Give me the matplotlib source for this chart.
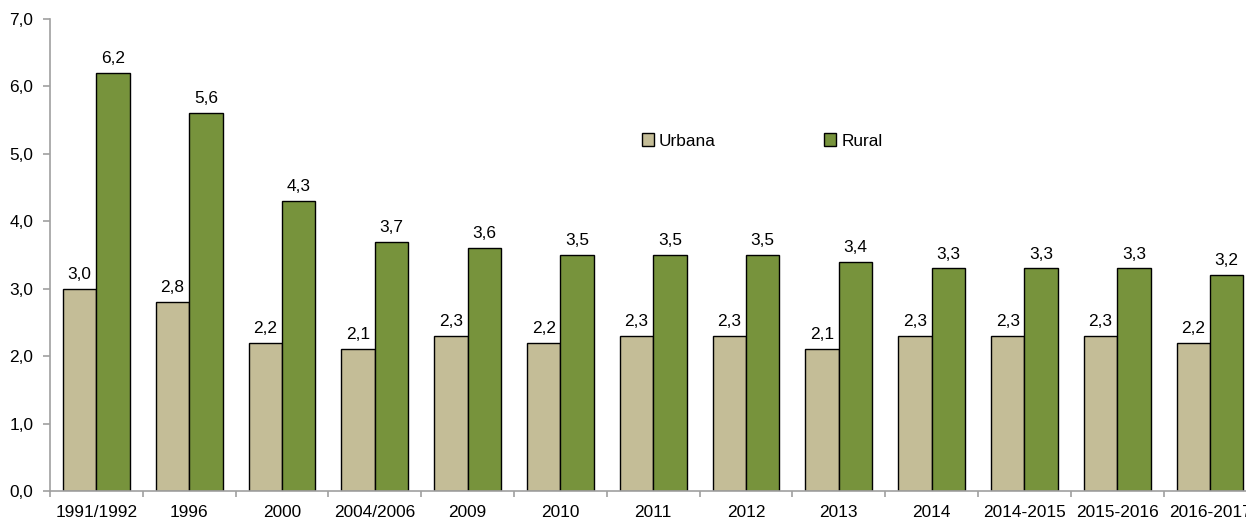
import matplotlib.pyplot as plt
import numpy as np

plt.rcParams['font.family'] = ['Liberation Sans', 'DejaVu Sans']

anos = ["1991/1992", "1996", "2000", "2004/2006", "2009", "2010", "2011",
        "2012", "2013", "2014", "2014-2015", "2015-2016", "2016-2017"]
urbana = [3.0, 2.8, 2.2, 2.1, 2.3, 2.2, 2.3, 2.3, 2.1, 2.3, 2.3, 2.3, 2.2]
rural = [6.2, 5.6, 4.3, 3.7, 3.6, 3.5, 3.5, 3.5, 3.4, 3.3, 3.3, 3.3, 3.2]

fs = 12.4

fig = plt.figure(figsize=(12.46, 5.21), dpi=100)
ax = fig.add_axes([50 / 1246, 1 - 491 / 521, 1206.4 / 1246, (491 - 19) / 521])

x = np.arange(len(anos))
w = 0.36
b1 = ax.bar(x - w / 2, urbana, w, color="#C4BD97", edgecolor="black", linewidth=1, label="Urbana")
b2 = ax.bar(x + w / 2, rural, w, color="#77933C", edgecolor="black", linewidth=1, label="Rural")

# rotulos de valor acima das barras
for bars, vals in [(b1, urbana), (b2, rural)]:
    for r, v in zip(bars, vals):
        ax.annotate(f"{v:.1f}".replace(".", ","), (r.get_x() + r.get_width() / 2, v),
                    xytext=(0, 5), textcoords="offset points", ha="center", va="bottom",
                    fontsize=fs)

ax.set_xlim(-0.5, len(anos) - 0.5)
ax.set_ylim(0, 7)
ax.set_yticks(np.arange(0, 7.1, 1))
ax.set_yticklabels([f"{t:.1f}".replace(".", ",") for t in np.arange(0, 7.1, 1)], fontsize=fs)
ax.set_xticks(x)
ax.set_xticklabels(anos, fontsize=fs)
ax.set_xticks(np.arange(-0.5, len(anos), 1), minor=True)
ax.tick_params(axis="x", which="major", length=0, pad=10)
ax.tick_params(axis="x", which="minor", length=4, color="#A0A0A0", width=1.2)
ax.tick_params(axis="y", length=5, color="#A0A0A0", width=1.2, pad=7)

for s in ["top", "right"]:
    ax.spines[s].set_visible(False)
for s in ["left", "bottom"]:
    ax.spines[s].set_color("#A0A0A0")
    ax.spines[s].set_linewidth(1.2)

fig.legend(loc="center left", bbox_to_anchor=(633 / 1246, 1 - 141 / 521), ncol=2,
           frameon=False, fontsize=fs, handlelength=0.7, handleheight=0.7,
           handletextpad=0.3, columnspacing=6.3, borderpad=0)

fig.savefig("out.png", dpi=100)
